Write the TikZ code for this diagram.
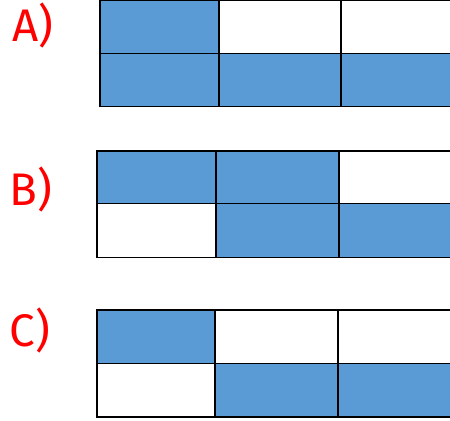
\documentclass[tikz,border=0pt]{standalone}
\usepackage{fontspec}
\setsansfont{Fira Sans}
\definecolor{partblue}{HTML}{5B9BD5}

\begin{document}
\begin{tikzpicture}[
  x=0.02cm, y=-0.02cm,
  font=\sffamily,
  part/.style={fill=partblue},
  grid/.style={draw=black,line width=0.9pt},
  tag/.style={text=red,inner sep=0pt,font=\sffamily\fontsize{26}{28}\selectfont}
]
\useasboundingbox (0,0) rectangle (450,421);
\clip (0,0) rectangle (450,421);

% option A
\node[tag] (labelA) at (33,26) {A)};
\fill[part] (100,0.7) rectangle (219,53.5);
\fill[part] (100,53.5) rectangle (460,106.5);
\draw[grid] (100,0.7) rectangle (460,106.5);
\draw[grid] (100,53.5) -- (460,53.5);
\draw[grid] (219,0.7) -- (219,106.5);
\draw[grid] (341,0.7) -- (341,106.5);

% option B
\node[tag] (labelB) at (31,190) {B)};
\fill[part] (97,151) rectangle (339,203.5);
\fill[part] (216,203.5) rectangle (460,257.5);
\draw[grid] (97,151) rectangle (460,257.5);
\draw[grid] (97,203.5) -- (460,203.5);
\draw[grid] (216,151) -- (216,257.5);
\draw[grid] (339,151) -- (339,257.5);

% option C
\node[tag] (labelC) at (30,331) {C)};
\fill[part] (97,310) rectangle (215,363.5);
\fill[part] (215,363.5) rectangle (460,417);
\draw[grid] (97,310) rectangle (460,417);
\draw[grid] (97,363.5) -- (460,363.5);
\draw[grid] (215,310) -- (215,417);
\draw[grid] (338,310) -- (338,417);
\end{tikzpicture}
\end{document}
